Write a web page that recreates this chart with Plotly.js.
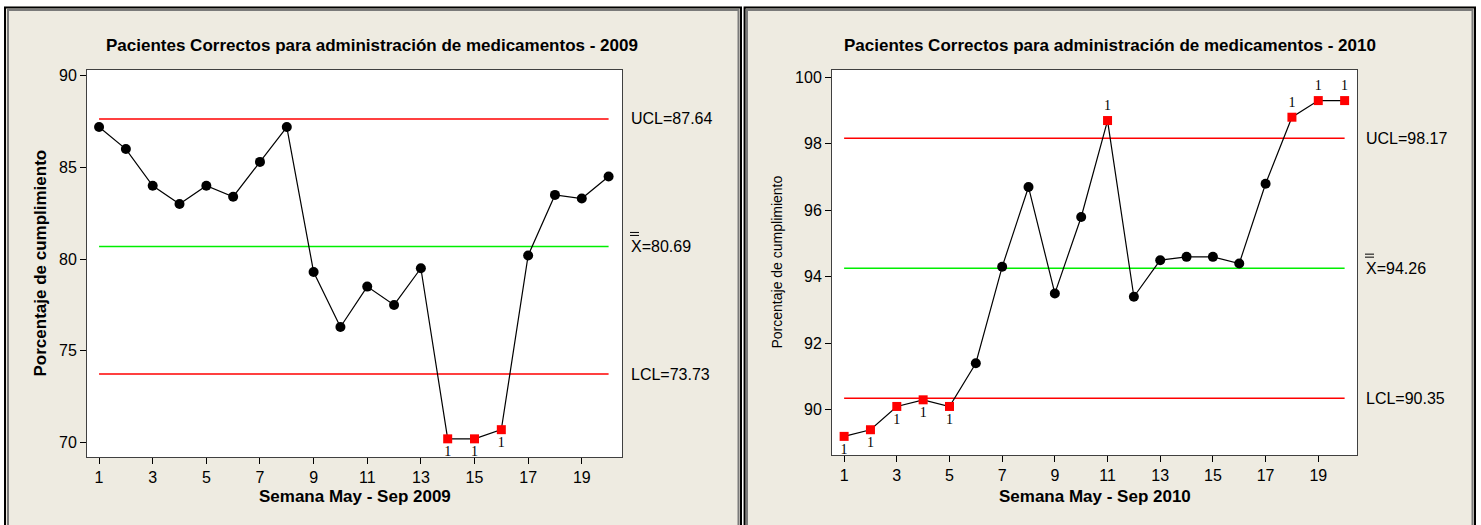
<!DOCTYPE html>
<html>
<head>
<meta charset="utf-8">
<script src="https://cdn.plot.ly/plotly-3.0.1.min.js"></script>
<style>
  html, body { margin: 0; padding: 0; background: #ffffff; }
  #chart { width: 1481px; height: 525px; }
</style>
</head>
<body>
<div id="chart"></div>
<script>
// ---------------- data ----------------
const weeks = [1, 2, 3, 4, 5, 6, 7, 8, 9, 10, 11, 12, 13, 14, 15, 16, 17, 18, 19, 20];
const pct2009 = [87.2, 86.0, 84.0, 83.0, 84.0, 83.4, 85.3, 87.2, 79.3, 76.3, 78.5, 77.5, 79.5, 70.2, 70.2, 70.7, 80.2, 83.5, 83.3, 84.5];
const pct2010 = [89.2, 89.4, 90.1, 90.3, 90.1, 91.4, 94.3, 96.7, 93.5, 95.8, 98.7, 93.4, 94.5, 94.6, 94.6, 94.4, 96.8, 98.8, 99.3, 99.3];
const years = ['2009', '2010'];
const uclValues = [87.64, 98.17];
const meanValues = [80.69, 94.26];
const lclValues = [73.73, 90.35];
const xTickVals = [1, 3, 5, 7, 9, 11, 13, 15, 17, 19];
const yTickVals2009 = [70, 75, 80, 85, 90];
const yTickVals2010 = [90, 92, 94, 96, 98, 100];
const chartTitle = 'Pacientes Correctos para administración de medicamentos - ';
const xTitle = 'Semana May - Sep ';
const yTitle = 'Porcentaje de cumplimiento';

// ---------------- layout helpers ----------------
const W = 1481, H = 525;
const px = v => v / W;
const py = v => 1 - v / H;
const BEIGE = '#eeebe1';
const FONT = '"Liberation Sans", Arial, sans-serif';
const SERIF = '"Liberation Serif", "Times New Roman", serif';

const panels = [
  { data: pct2009, xa: 'x', ya: 'y', plotL: 87, plotR: 622, plotT: 70, plotB: 457,
    xr: [0.55, 20.5], yr: [69.21, 90.31], yt: yTickVals2009,
    panelC: 372, labelX: 629, yTitleX: 40, yTitleBold: true, yTitleSize: 17 },
  { data: pct2010, xa: 'x2', ya: 'y2', plotL: 832, plotR: 1357, plotT: 70, plotB: 455,
    xr: [0.54, 20.47], yr: [88.64, 100.22], yt: yTickVals2010,
    panelC: 1110, labelX: 1364, yTitleX: 776, yTitleBold: false, yTitleSize: 14 }
];

const traces = [];
const annotations = [];
const shapes = [];
const layout = {
  width: W, height: H,
  margin: { l: 0, r: 0, t: 0, b: 0 },
  paper_bgcolor: BEIGE,
  plot_bgcolor: '#ffffff',
  showlegend: false,
  font: { family: FONT, color: '#000000' }
};

panels.forEach((p, i) => {
  const ucl = uclValues[i], cl = meanValues[i], lcl = lclValues[i];
  // control lines
  [[ucl, '#ff0000'], [cl, '#00ee00'], [lcl, '#ff0000']].forEach(([v, c]) => {
    traces.push({
      x: [weeks[0], weeks[weeks.length - 1]], y: [v, v],
      xaxis: p.xa, yaxis: p.ya, mode: 'lines',
      line: { color: c, width: 1.5 }, hoverinfo: 'skip'
    });
  });
  // data line
  traces.push({
    x: weeks, y: p.data, xaxis: p.xa, yaxis: p.ya, mode: 'lines',
    line: { color: '#000000', width: 1.2 }, hoverinfo: 'skip'
  });
  // in-control points
  const inX = [], inY = [], outX = [], outY = [], outPos = [];
  p.data.forEach((v, k) => {
    if (v > ucl || v < lcl) {
      outX.push(weeks[k]); outY.push(v);
      outPos.push(v > ucl ? 'top center' : 'bottom center');
    } else { inX.push(weeks[k]); inY.push(v); }
  });
  traces.push({
    x: inX, y: inY, xaxis: p.xa, yaxis: p.ya, mode: 'markers',
    marker: { color: '#000000', size: 10, symbol: 'circle' }
  });
  traces.push({
    x: outX, y: outY, xaxis: p.xa, yaxis: p.ya, mode: 'markers+text',
    marker: { color: '#ff0000', size: 9, symbol: 'square' },
    text: outX.map(() => '1'), textposition: outPos,
    textfont: { family: SERIF, size: 14, color: '#000000' },
    cliponaxis: false
  });

  const axX = p.xa === 'x' ? 'xaxis' : 'xaxis2';
  const axY = p.ya === 'y' ? 'yaxis' : 'yaxis2';
  const common = {
    showline: true, mirror: true, linecolor: '#404040', linewidth: 1,
    ticks: 'outside', ticklen: 6, tickwidth: 1, tickcolor: '#000000',
    showgrid: false, zeroline: false,
    tickfont: { family: FONT, size: 16, color: '#000000' }
  };
  layout[axX] = Object.assign({}, common, {
    domain: [px(p.plotL), px(p.plotR)], range: p.xr,
    tickvals: xTickVals, anchor: p.ya
  });
  layout[axY] = Object.assign({}, common, {
    domain: [py(p.plotB), py(p.plotT)], range: p.yr,
    tickvals: p.yt, anchor: p.xa
  });

  // titles
  annotations.push({
    xref: 'paper', yref: 'paper', x: px(p.panelC), y: py(45),
    xanchor: 'center', yanchor: 'middle', showarrow: false,
    text: '<b>' + chartTitle + years[i] + '</b>',
    font: { family: FONT, size: 17, color: '#000000' }
  });
  annotations.push({
    xref: 'paper', yref: 'paper', x: px((p.plotL + p.plotR) / 2), y: py(496),
    xanchor: 'center', yanchor: 'middle', showarrow: false,
    text: '<b>' + xTitle + years[i] + '</b>',
    font: { family: FONT, size: 17, color: '#000000' }
  });
  annotations.push({
    xref: 'paper', yref: 'paper', x: px(p.yTitleX), y: py((p.plotT + p.plotB) / 2),
    xanchor: 'center', yanchor: 'middle', showarrow: false, textangle: -90,
    text: p.yTitleBold ? '<b>' + yTitle + '</b>' : yTitle,
    font: { family: FONT, size: p.yTitleSize, color: '#000000' }
  });
  // limit labels
  [['UCL=', ucl], ['X=', cl], ['LCL=', lcl]].forEach(([lab, v]) => {
    annotations.push({
      xref: 'paper', yref: p.ya, x: px(p.labelX), y: v,
      xanchor: 'left', yanchor: 'middle', showarrow: false,
      text: lab + v.toFixed(2),
      font: { family: FONT, size: 16, color: '#000000' }
    });
  });
  // double bar over X
  [14, 11].forEach(off => {
    shapes.push({
      type: 'line', xref: 'paper', yref: p.ya, ysizemode: 'pixel', yanchor: cl,
      x0: px(p.labelX + 1), x1: px(p.labelX + 10), y0: off, y1: off,
      line: { color: '#000000', width: 1 }
    });
  });
});

// panel frames
const rectPx = (x0, y0, x1, y1, line, fill) => ({
  type: 'rect', xref: 'paper', yref: 'paper', layer: 'above',
  x0: px(x0), x1: px(x1), y0: py(y1), y1: py(y0),
  line: line, fillcolor: fill || 'rgba(0,0,0,0)'
});
shapes.push(rectPx(0, 0, W, 6.5, { width: 0 }, '#ffffff'));
shapes.push(rectPx(0, 0, 4, H, { width: 0 }, '#ffffff'));
shapes.push(rectPx(742, 0, 743.6, H, { width: 0 }, '#ffffff'));
shapes.push(rectPx(1476, 0, W, H, { width: 0 }, '#ffffff'));
shapes.push(rectPx(5, 7.5, 741, 600, { color: '#000000', width: 2 }));
shapes.push(rectPx(8, 10, 738.5, 600, { color: '#7a7a7a', width: 2 }));
shapes.push(rectPx(744.6, 7.5, 1475, 600, { color: '#000000', width: 2 }));
shapes.push(rectPx(747, 10, 1472.5, 600, { color: '#7a7a7a', width: 2 }));

layout.annotations = annotations;
layout.shapes = shapes;

Plotly.newPlot('chart', traces, layout, { displayModeBar: false, staticPlot: true });
</script>
</body>
</html>
